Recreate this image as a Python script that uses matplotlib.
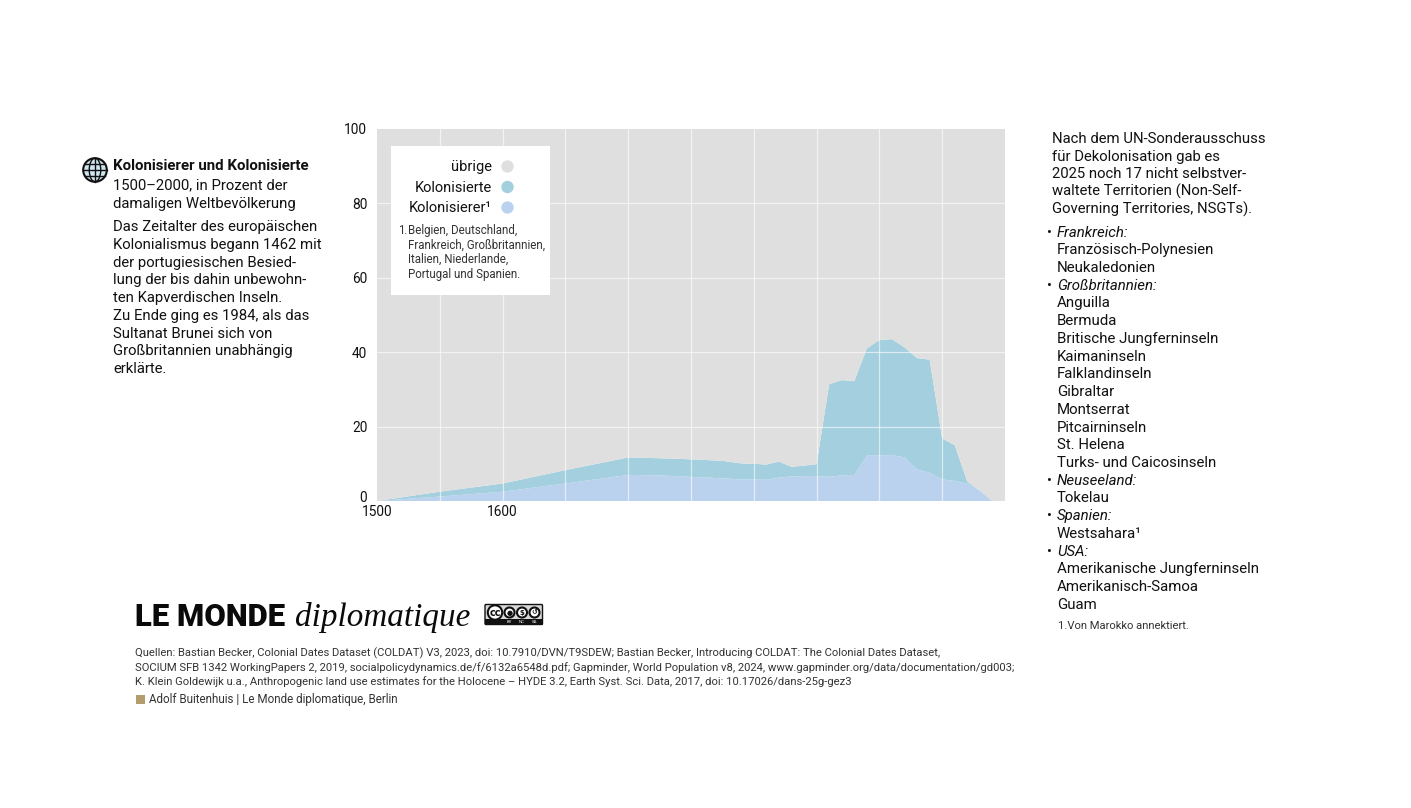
import matplotlib
matplotlib.use('Agg')
import matplotlib.pyplot as plt
from matplotlib.patches import Circle, Ellipse, Rectangle, FancyBboxPatch
from matplotlib.transforms import ScaledTranslation

plt.rcParams['font.family'] = ['Roboto', 'DejaVu Sans']

W, H = 1411, 808

# Werte
jahre = [1500, 1550, 1600, 1650, 1700, 1725, 1750, 1775, 1790, 1800, 1810, 1820, 1830,
         1840, 1850, 1860, 1870, 1880, 1890, 1900, 1910, 1920, 1930, 1940, 1950, 1960,
         1970, 1980, 1990, 2000]
kolonisierer = [0, 1.2, 2.5, 4.7, 7.0, 6.9, 6.5, 6.1, 5.8, 5.8, 5.7, 6.3, 6.6,
                6.7, 6.7, 6.5, 6.9, 7.0, 12.2, 12.2, 12.4, 11.7, 8.5, 7.6, 5.8, 5.4,
                4.7, 2.8, 0, 0]
kolonisierte = [0, 1.3, 2.2, 3.6, 4.7, 4.6, 4.7, 4.7, 4.3, 4.2, 4.1, 4.3, 2.6,
                2.8, 3.2, 24.9, 25.6, 25.2, 28.8, 31.1, 31.1, 29.6, 29.9, 30.4, 11.0, 9.6,
                0.5, 0, 0, 0]
uebrige = [100, 97.5, 95.3, 91.7, 88.3, 88.5, 88.8, 89.2, 89.9, 90.0, 90.2, 89.4, 90.8,
           90.5, 90.1, 68.6, 67.5, 67.8, 59.0, 56.7, 56.5, 58.7, 61.6, 62.0, 83.2, 85.0,
           94.8, 97.2, 100, 100]
x_ticks = [1500, 1600]
x_grid = [1550, 1600, 1650, 1700, 1750, 1800, 1850, 1900, 1950]
y_ticks = [0, 20, 40, 60, 80, 100]

farben = ['#bbd2ee', '#a3cfdf', '#dfdfdf']
schwarz = '#111111'

links = ['Das Zeitalter des europäischen', 'Kolonialismus begann 1462 mit',
         'der portugiesischen Besied-', 'lung der bis dahin unbewohn-',
         'ten Kapverdischen Inseln.', 'Zu Ende ging es 1984, als das',
         'Sultanat Brunei sich von', 'Großbritannien unabhängig', 'erklärte.']
rechts_kopf = ['Nach dem UN-Sonderausschuss', 'für Dekolonisation gab es',
               '2025 noch 17 nicht selbstver-', 'waltete Territorien (Non-Self-',
               'Governing Territories, NSGTs).']
rechts_liste = [('Frankreich:', True), ('Französisch-Polynesien', False), ('Neukaledonien', False),
                ('Großbritannien:', True), ('Anguilla', False), ('Bermuda', False),
                ('Britische Jungferninseln', False), ('Kaimaninseln', False),
                ('Falklandinseln', False), ('Gibraltar', False), ('Montserrat', False),
                ('Pitcairninseln', False), ('St. Helena', False), ('Turks- und Caicosinseln', False),
                ('Neuseeland:', True), ('Tokelau', False), ('Spanien:', True), ('Westsahara¹', False),
                ('USA:', True), ('Amerikanische Jungferninseln', False),
                ('Amerikanisch-Samoa', False), ('Guam', False)]
quellen = ['Quellen: Bastian Becker, Colonial Dates Dataset (COLDAT) V3, 2023, doi: 10.7910/DVN/T9SDEW; Bastian Becker, Introducing COLDAT: The Colonial Dates Dataset,',
           'SOCIUM SFB 1342 WorkingPapers 2, 2019, socialpolicydynamics.de/f/6132a6548d.pdf; Gapminder, World Population v8, 2024, www.gapminder.org/data/documentation/gd003;',
           'K. Klein Goldewijk u.a., Anthropogenic land use estimates for the Holocene – HYDE 3.2, Earth Syst. Sci. Data, 2017, doi: 10.17026/dans-25g-gez3']
fussnote = ['Belgien, Deutschland,', 'Frankreich, Großbritannien,', 'Italien, Niederlande,', 'Portugal und Spanien.']

fig = plt.figure(figsize=(W / 100, H / 100), dpi=100, facecolor='white')

# Ebene in Pixelkoordinaten fuer Text und Logos
bg = fig.add_axes([0, 0, 1, 1], zorder=3)
bg.set_xlim(0, W)
bg.set_ylim(H, 0)
bg.axis('off')


def txt(x, y, s, size=10.75, color=schwarz, **kw):
    bg.text(x, y, s, fontsize=size, color=color, va='baseline', **kw)


# Diagramm
ax = fig.add_axes([377 / W, 1 - 501 / H, 628 / W, 372 / H], zorder=1)
ax.stackplot(jahre, kolonisierer, kolonisierte, uebrige, colors=farben, linewidth=0)
ax.set_xlim(1500, 2000)
ax.set_ylim(0, 100)
for s in ax.spines.values():
    s.set_visible(False)
for g in x_grid:
    ax.axvline(g, color='white', lw=0.9, alpha=0.6, zorder=5)
for g in y_ticks[1:-1]:
    ax.axhline(g, color='white', lw=0.9, alpha=0.6, zorder=5)
ax.set_xticks(x_ticks)
ax.set_yticks(y_ticks)
ax.tick_params(length=0, labelsize=9.9, labelcolor=schwarz, pad=7)
ax.tick_params(axis='x', pad=3)
# die 0 sitzt etwas ueber der Achse, sonst stoesst sie an 1500
null = ax.get_yticklabels()[0]
null.set_transform(null.get_transform() + ScaledTranslation(0, 4 / 100, fig.dpi_scale_trans))

# Legende
bg.add_patch(Rectangle((390.5, 145.5), 159.5, 149, fc='white', ec='none'))
for y, name, f in [(171, 'übrige', farben[2]), (191.5, 'Kolonisierte', farben[1]), (212, 'Kolonisierer¹', farben[0])]:
    txt(491.5, y, name, size=10.5, ha='right')
    bg.add_patch(Circle((507.5, y - 4.5), 6.2, fc=f, ec='none'))
txt(398, 234, '1.', size=8.3, color='#333333')
for i, z in enumerate(fussnote):
    txt(408, 234 + i * 14.6, z, size=8.3, color='#333333')

# Globus
gx, gy = 95, 170
bg.add_patch(Circle((gx, gy), 11.8, fc='#cfe6ef', ec=schwarz, lw=1.5))
bg.add_patch(Ellipse((gx, gy), 11.5, 23.6, fc='none', ec=schwarz, lw=1))
bg.plot([gx, gx], [gy - 11.8, gy + 11.8], color=schwarz, lw=1)
bg.plot([gx - 11.8, gx + 11.8], [gy, gy], color=schwarz, lw=1)
bg.plot([gx - 10, gx + 10], [gy - 6, gy - 6], color=schwarz, lw=1)
bg.plot([gx - 10, gx + 10], [gy + 6, gy + 6], color=schwarz, lw=1)

# Linke Spalte
txt(113, 170, 'Kolonisierer und Kolonisierte', size=10.85, fontweight='bold')
txt(113, 189, '1500–2000, in Prozent der')
txt(113, 208, 'damaligen Weltbevölkerung')
for i, z in enumerate(links):
    txt(113, 231 + i * 17.75, z)

# Rechte Spalte
for i, z in enumerate(rechts_kopf):
    txt(1051.5, 143 + i * 17.6, z, size=10.7)
for i, (z, kopf) in enumerate(rechts_liste):
    y = 236.6 + i * 17.72
    if kopf:
        txt(1047.5, y, '•', size=10.5)
        txt(1057, y, z, size=10.8, style='italic')
    else:
        txt(1057, y, z, size=10.8)
txt(1058, 629, '1.Von Marokko annektiert.', size=8.15, color='#333333')

# Logo
txt(135, 626, 'LE MONDE', size=22.4, fontweight='black', color='#0a0a0a')
txt(294.5, 626, 'diplomatique', size=23.9, family=['Liberation Serif'], style='italic', color='#0a0a0a')

# CC-Plakette
bg.add_patch(FancyBboxPatch((485, 604.5), 57.5, 20, boxstyle='round,pad=0,rounding_size=1',
                            fc='#d8d8d8', ec=schwarz, lw=1))
bg.add_patch(Rectangle((485, 619), 57.5, 6, fc=schwarz, ec='none'))
for cx, r, s in [(495, 7.2, 'cc'), (509.5, 5, '●'), (522, 5, '$'), (534.5, 5, '↺')]:
    bg.add_patch(Circle((cx, 612.5), r, fc='white', ec=schwarz, lw=1.5))
    bg.text(cx, 612.5, s, fontsize=7 if s == 'cc' else 5, fontweight='bold', ha='center', va='center',
            color=schwarz, family=['DejaVu Sans'])
for cx, s in [(509.5, 'BY'), (522, 'NC'), (534.5, 'SA')]:
    bg.text(cx, 622, s, fontsize=3.2, ha='center', va='center', color='white')

# Quellen
for i, z in enumerate(quellen):
    txt(135, 656 + i * 14.6, z, size=8.15, color='#333333')
bg.add_patch(Rectangle((135.5, 694.5), 9, 9, fc='#b39c6e', ec='none'))
txt(149, 703, 'Adolf Buitenhuis | Le Monde diplomatique, Berlin', size=8.4, color='#333333')

fig.savefig('out.png', dpi=100, facecolor='white')
